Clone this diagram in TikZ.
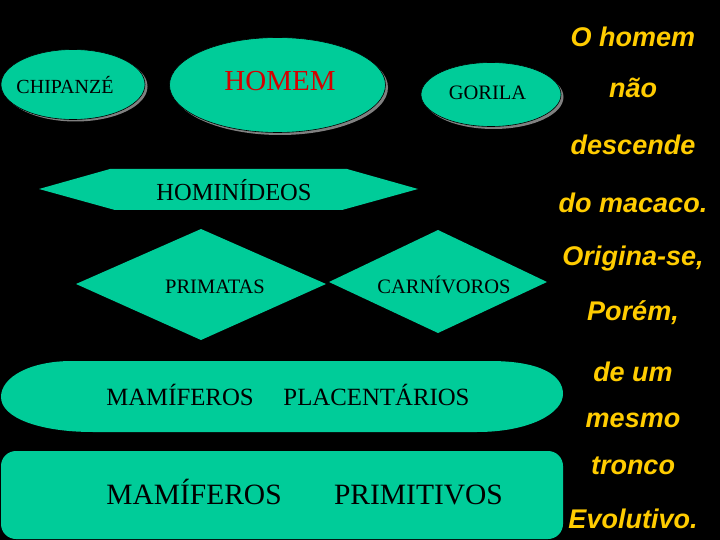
\documentclass[tikz,border=0pt]{standalone}
\usepackage{fontspec}
\setmainfont{Liberation Serif}
\newfontfamily\arialfont{Liberation Sans}
\definecolor{teal1}{RGB}{0,204,153}
\definecolor{gold1}{RGB}{255,204,0}
\definecolor{red1}{RGB}{214,0,0}
\definecolor{shade1}{RGB}{128,128,128}
\tikzset{
  shapefill/.style={fill=teal1},
  shadowfill/.style={fill=shade1},
  lbl/.style={anchor=base, inner sep=0pt, text=black},
  side/.style={anchor=base, inner sep=0pt, text=gold1, font=\arialfont\bfseries\itshape\fontsize{27}{30}\selectfont},
}
\begin{document}
\begin{tikzpicture}[x=1pt,y=-1pt]
\useasboundingbox (0,0) rectangle (720,540);
\fill[black] (0,0) rectangle (720,540);

% top ellipses with shadows
\fill[shadowfill] (75.5,86.5) ellipse [x radius=72, y radius=35];
\fill[shapefill, draw=black, line width=0.6pt] (73,84.5) ellipse [x radius=72, y radius=35];
\fill[shadowfill] (280,87.5) ellipse [x radius=108, y radius=47.5];
\fill[shapefill, draw=black, line width=0.6pt] (277.5,85) ellipse [x radius=108, y radius=47.5];
\fill[shadowfill] (493.5,97) ellipse [x radius=70, y radius=32];
\fill[shapefill, draw=black, line width=0.6pt] (491,94.5) ellipse [x radius=70, y radius=32];

% hexagon
\fill[shapefill] (39,189) -- (110,169) -- (347,169) -- (418,189) -- (342,210) -- (115,210) -- cycle;

% diamonds
\fill[shapefill] (76,284) -- (201,229) -- (326,284) -- (201,340) -- cycle;
\fill[shapefill] (329,282) -- (438,230) -- (547,282) -- (438,333) -- cycle;

% placentarios
\fill[shapefill] (72,361) -- (490,361) .. controls (540,361) and (563,375) .. (563,394)
  .. controls (563,413) and (530,432) .. (477,432) -- (93,432)
  .. controls (40,432) and (1,418) .. (1,397) .. controls (1,377) and (30,361) .. (72,361) -- cycle;

% primitivos
\fill[shapefill, rounded corners=15pt] (1,451) rectangle (563,539);

% labels
\node[lbl, font=\fontsize{20}{24}\selectfont] (chip) at (65,94) {CHIPANZÉ};
\node[lbl, text=red1, font=\fontsize{29}{34}\selectfont] (homem) at (280,91) {HOMEM};
\node[lbl, font=\fontsize{20.5}{24}\selectfont] (gorila) at (487.5,100) {GORILA};
\node[lbl, font=\fontsize{24.5}{28}\selectfont] (hom) at (234,201) {HOMINÍDEOS};
\node[lbl, font=\fontsize{20.5}{24}\selectfont] (prim) at (215,293) {PRIMATAS};
\node[lbl, font=\fontsize{20.5}{24}\selectfont] (carn) at (444,293) {CARNÍVOROS};
\node[lbl, font=\fontsize{24.8}{28}\selectfont] (mam1) at (180,405) {MAMÍFEROS};
\node[lbl, font=\fontsize{24.8}{28}\selectfont] (plac) at (376.5,405) {PLACENTÁRIOS};
\node[lbl, font=\fontsize{29.5}{34}\selectfont] (mam2) at (194,504) {MAMÍFEROS};
\node[lbl, font=\fontsize{29.5}{34}\selectfont] (primit) at (418.5,504) {PRIMITIVOS};

% side text
\node[side] (s1) at (633,47) {O homem};
\node[side] (s2) at (633,98) {não};
\node[side] (s3) at (633,155) {descende};
\node[side] (s4) at (633,212) {do macaco.};
\node[side] (s5) at (633,265) {Origina-se,};
\node[side] (s6) at (633,320) {Porém,};
\node[side] (s7) at (633,381) {de um};
\node[side] (s8) at (633,427) {mesmo};
\node[side] (s9) at (633,474) {tronco};
\node[side] (s10) at (633,528) {Evolutivo.};
\end{tikzpicture}
\end{document}
